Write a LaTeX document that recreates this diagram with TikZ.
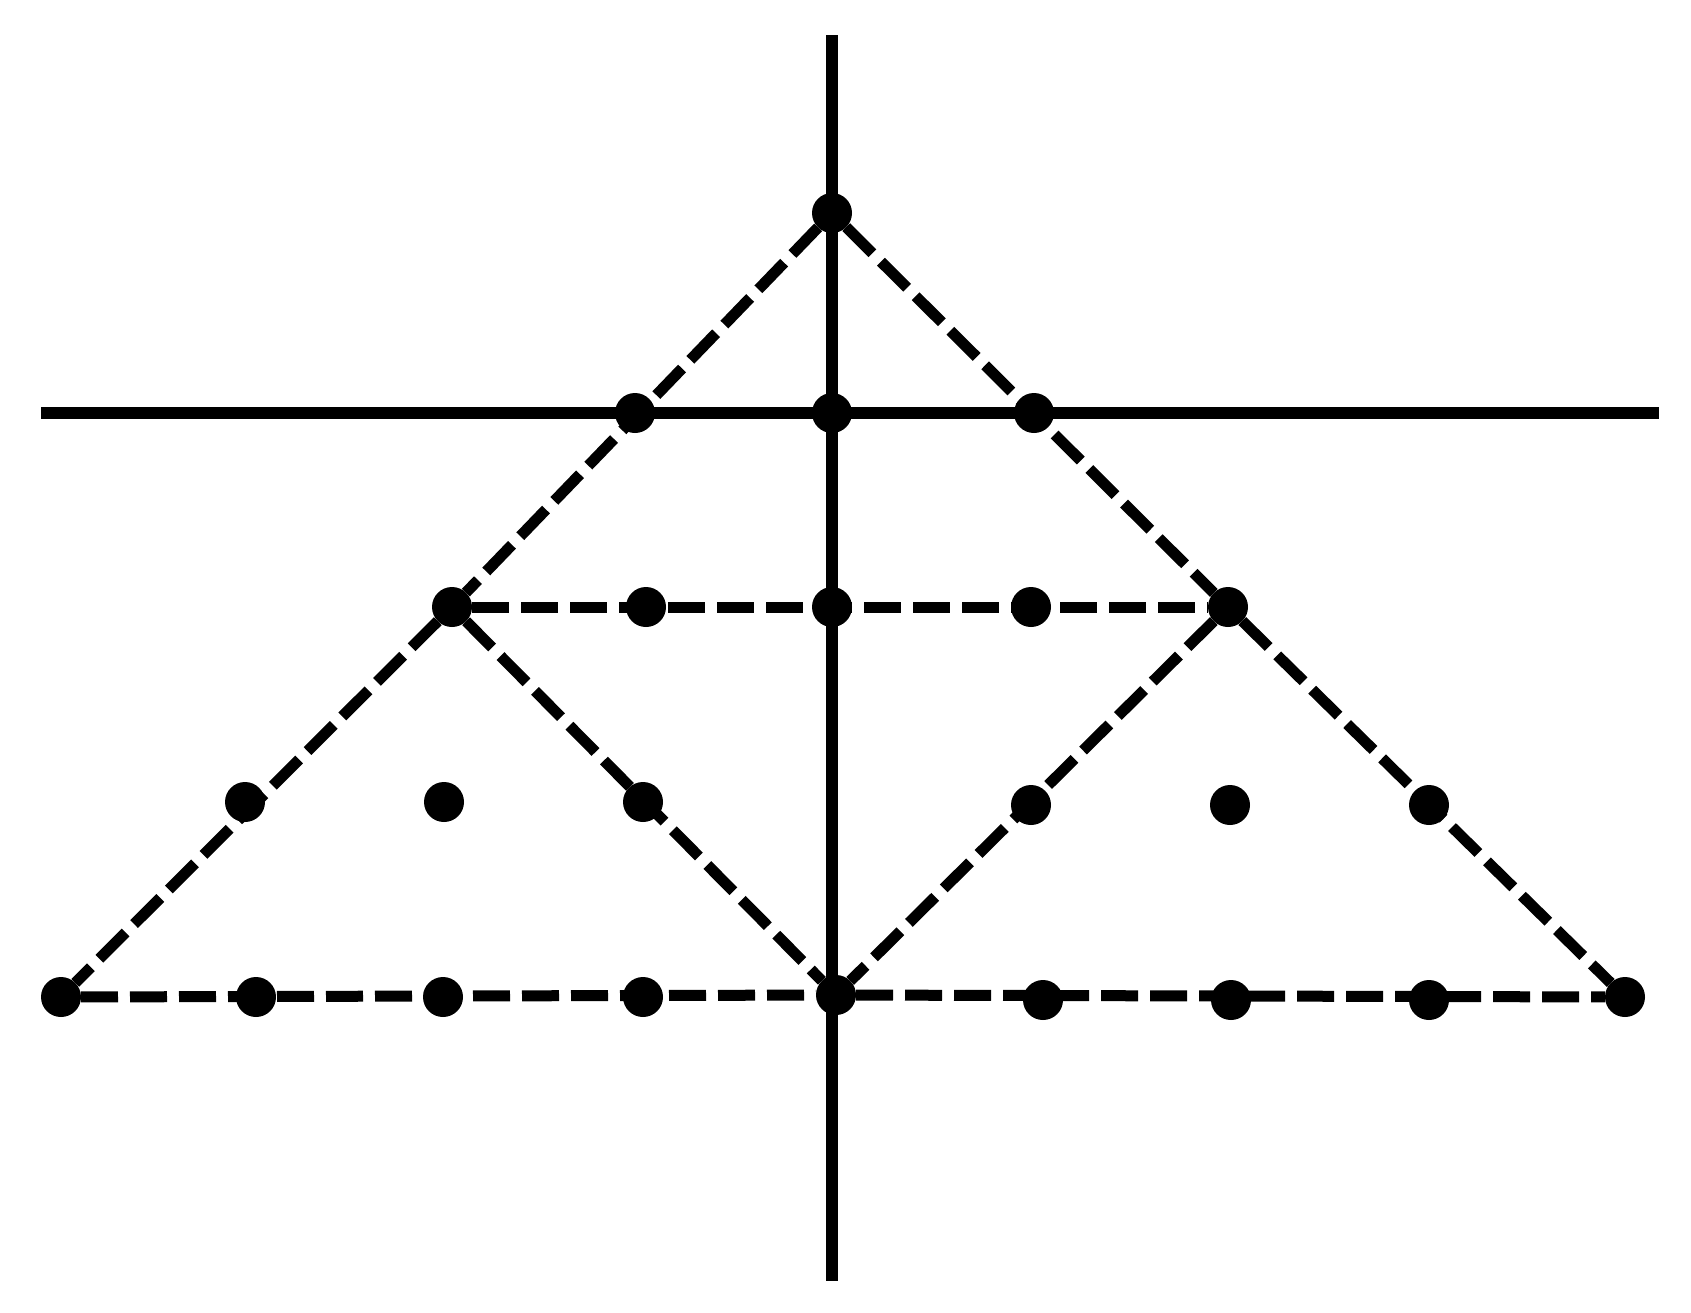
\documentclass[tikz,border=0pt]{standalone}
\usepackage{tikz}
\usetikzlibrary{arrows}

\begin{document}
\begin{tikzpicture}[x=1pt,y=-1pt,
  axis/.style={draw,line width=12pt},
  link/.style={draw,line width=11pt,dash pattern=on 37pt off 12pt},
  vtx/.style={circle,fill=black,draw=none,inner sep=0pt,outer sep=0pt,minimum size=40pt}]
      \useasboundingbox (0,0) rectangle (1691,1312);

      % axes
      \coordinate (N) at (832,35);
      \coordinate (S) at (832,1281);
      \coordinate (W) at (41,413);
      \coordinate (E) at (1659,413);
      \draw[axis] (N) -- (S);
      \draw[axis] (W) -- (E);

      % lattice points
      \node [vtx] (A) at (832,213) {};

      \node [vtx] (H1) at (635,413) {};
      \node [vtx] (H2) at (832,413) {};
      \node [vtx] (H3) at (1034,413) {};

      \node [vtx] (M1) at (452,607) {};
      \node [vtx] (M2) at (646,607) {};
      \node [vtx] (M3) at (832,607) {};
      \node [vtx] (M4) at (1031,607) {};
      \node [vtx] (M5) at (1228,607) {};

      \node [vtx] (R1) at (245,802) {};
      \node [vtx] (R2) at (444,802) {};
      \node [vtx] (R3) at (643,802) {};
      \node [vtx] (R4) at (1031,805) {};
      \node [vtx] (R5) at (1230,805) {};
      \node [vtx] (R6) at (1429,805) {};

      \node [vtx] (B1) at (61,997) {};
      \node [vtx] (B2) at (256,997) {};
      \node [vtx] (B3) at (443,997) {};
      \node [vtx] (B4) at (643,997) {};
      \node [vtx] (B5) at (836,995) {};
      \node [vtx] (B6) at (1043,1000) {};
      \node [vtx] (B7) at (1231,1000) {};
      \node [vtx] (B8) at (1429,1000) {};
      \node [vtx] (B9) at (1625,997) {};

      \path
	(A) edge[link] (M1)
	(M1) edge[link] (B1)
	(A) edge[link] (M5)
	(M5) edge[link] (B9)
	(M1) edge[link] (M5)
	(M1) edge[link] (B5)
	(M5) edge[link] (B5)
	(B1) edge[link] (B5)
	(B5) edge[link] (B9);

\end{tikzpicture}
\end{document}
